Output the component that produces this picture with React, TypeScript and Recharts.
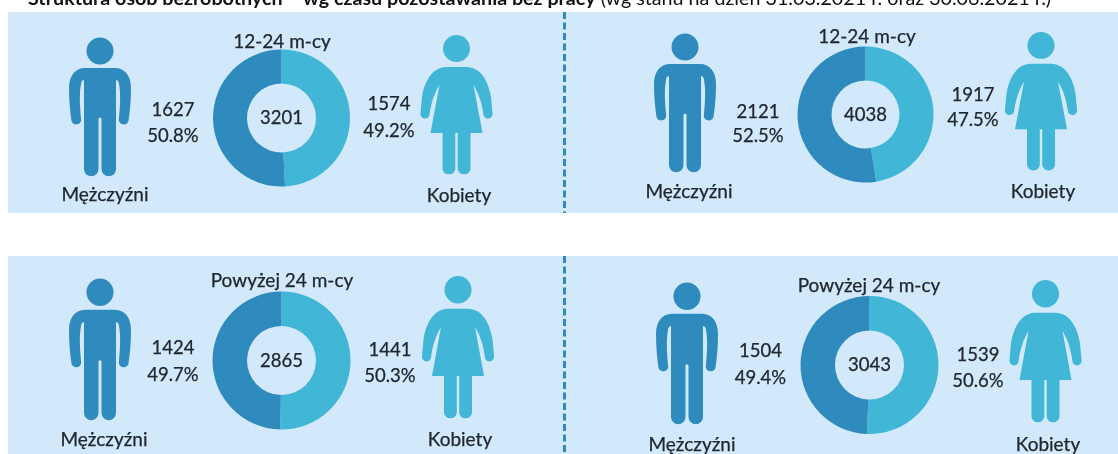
import React from 'react';
import { PieChart, Pie, Cell } from 'recharts';

const panelTitles = ['12-24 m-cy', '12-24 m-cy', 'Powyżej 24 m-cy', 'Powyżej 24 m-cy'];
const menCounts = [1627, 2121, 1424, 1504];
const womenCounts = [1574, 1917, 1441, 1539];
const totals = [3201, 4038, 2865, 3043];
const menShares = ['50.8%', '52.5%', '49.7%', '49.4%'];
const womenShares = ['49.2%', '47.5%', '50.3%', '50.6%'];
const menLabel = 'Mężczyźni';
const womenLabel = 'Kobiety';
const titleBold = 'Struktura osób bezrobotnych – wg czasu pozostawania bez pracy';
const titleRest = '(wg stanu na dzień 31.03.2021 r. oraz 30.06.2021 r.)';

const MEN_COLOR = '#2f8bbd';
const WOMEN_COLOR = '#41b6d6';
const PANEL_BG = '#d2e8fb';
const TEXT_COLOR = '#20272e';

const MAN_BODY =
    'M-15 30H15C25 30 31 38 31 50C31 62 30 73 28.5 83A5 5 0 0 1 18.8 82C20 70 21 56 19 46Q18.5 42 16 42V131A7.25 7.25 0 0 1 1.5 131V81A1.5 1.5 0 0 0 -1.5 81V131A7.25 7.25 0 0 1 -16 131V42Q-18.5 42 -19 46C-21 56 -20 70 -18.8 82A5 5 0 0 1 -28.5 83C-30 73 -31 62 -31 50C-31 38 -25 30 -15 30Z';
const WOMAN_BODY =
    'M-10 32H10C24 32 32 46 34.5 62L36 78A4.5 4.5 0 0 1 27 80C25.5 68 22 58 17 50L26 98H14V134A6.5 6.5 0 0 1 1.2 134V98H-1.2V134A6.5 6.5 0 0 1 -14 134V98H-26L-17 50C-22 58 -25.5 68 -27 80A4.5 4.5 0 0 1 -36 78L-34.5 62C-32 46 -24 32 -10 32Z';

// where each of the four panels puts its pieces
const layout = [
    { cx: 281.5, cy: 118, r: 68.5, inner: 34.5, titleX: 282, titleY: 40, manX: 100, manTop: 38, manH: 138, womanX: 456.5, womanTop: 35, womanH: 141, menX: 173, menY: 109, menPctY: 135, womenX: 389, womenY: 103, womenPctY: 130, mLabelX: 105, mLabelY: 193, kLabelX: 459, kLabelY: 194 },
    { cx: 865.5, cy: 114.5, r: 68, inner: 34, titleX: 867, titleY: 35, manX: 685, manTop: 34, manH: 138, womanX: 1041, womanTop: 32, womanH: 140, menX: 758, menY: 111, menPctY: 135, womenX: 973, womenY: 94, womenPctY: 119, mLabelX: 689, mLabelY: 190, kLabelX: 1043, kLabelY: 190 },
    { cx: 281.5, cy: 360.5, r: 69, inner: 34.5, titleX: 282, titleY: 279, manX: 100, manTop: 279, manH: 141, womanX: 458, womanTop: 276, womanH: 144, menX: 173, menY: 347, menPctY: 374, womenX: 390, womenY: 349, womenPctY: 375, mLabelX: 104, mLabelY: 438, kLabelX: 460, kLabelY: 438 },
    { cx: 869.5, cy: 365, r: 69, inner: 34.5, titleX: 869, titleY: 284, manX: 687, manTop: 283, manH: 141, womanX: 1045.5, womanTop: 280, womanH: 144, menX: 760.5, menY: 350, menPctY: 377, womenX: 978, womenY: 354, womenPctY: 380, mLabelX: 692, mLabelY: 443, kLabelX: 1048, kLabelY: 443 },
];

const textProps = {
    fontFamily: 'Lato',
    fill: TEXT_COLOR,
    stroke: TEXT_COLOR,
    strokeWidth: 0.25,
    textAnchor: 'middle' as const,
    dominantBaseline: 'central' as const,
};
const LABEL_SIZE = 19;
const NUMBER_SIZE = 18.5;

function Person({ x, top, height, body, color, base }: { x: number; top: number; height: number; body: string; color: string; base: number }) {
    const headY = base === 138 ? 13 : 13.5;
    return (
        <g transform={`translate(${x} ${top}) scale(1 ${height / base})`} fill={color}>
            <ellipse cx={0} cy={headY} rx={13.5} ry={13.5} />
            <path d={body} />
        </g>
    );
}

export default function App() {
    return (
        <div style={{ position: 'absolute', left: 0, top: 0, width: 1118, height: 454, background: '#fff', overflow: 'hidden', filter: 'blur(0.5px)' }}>
            <PieChart width={1118} height={454} margin={{ top: 0, right: 0, bottom: 0, left: 0 }}>
                <rect x={8} y={12} width={1110} height={201} fill={PANEL_BG} />
                <rect x={8} y={256} width={1110} height={198} fill={PANEL_BG} />
                <line x1={564.5} y1={12} x2={564.5} y2={213} stroke={MEN_COLOR} strokeWidth={3} strokeDasharray="7 3.5" />
                <line x1={564.5} y1={256} x2={564.5} y2={454} stroke={MEN_COLOR} strokeWidth={3} strokeDasharray="7 3.5" />
                <text x={28} y={5} fontFamily="Lato" fontSize={19.7} fill="#111">
                    <tspan fontWeight={700}>{titleBold}</tspan> <tspan>{titleRest}</tspan>
                </text>
                {layout.map((p, i) => (
                    <Pie
                        key={i}
                        data={[
                            { name: womenLabel, value: womenCounts[i] },
                            { name: menLabel, value: menCounts[i] },
                        ]}
                        dataKey="value"
                        cx={p.cx}
                        cy={p.cy}
                        innerRadius={p.inner}
                        outerRadius={p.r}
                        startAngle={90}
                        endAngle={-270}
                        stroke="none"
                        isAnimationActive={false}
                    >
                        <Cell fill={WOMEN_COLOR} />
                        <Cell fill={MEN_COLOR} />
                    </Pie>
                ))}
                {layout.map((p, i) => (
                    <g key={i}>
                        <Person x={p.manX} top={p.manTop} height={p.manH} body={MAN_BODY} color={MEN_COLOR} base={138} />
                        <Person x={p.womanX} top={p.womanTop} height={p.womanH} body={WOMAN_BODY} color={WOMEN_COLOR} base={141} />
                        <text {...textProps} fontSize={LABEL_SIZE} x={p.titleX} y={p.titleY}>{panelTitles[i]}</text>
                        <text {...textProps} fontSize={NUMBER_SIZE} x={p.cx} y={p.cy - 1}>{totals[i]}</text>
                        <text {...textProps} fontSize={NUMBER_SIZE} x={p.menX} y={p.menY}>{menCounts[i]}</text>
                        <text {...textProps} fontSize={NUMBER_SIZE} x={p.menX} y={p.menPctY}>{menShares[i]}</text>
                        <text {...textProps} fontSize={NUMBER_SIZE} x={p.womenX} y={p.womenY}>{womenCounts[i]}</text>
                        <text {...textProps} fontSize={NUMBER_SIZE} x={p.womenX} y={p.womenPctY}>{womenShares[i]}</text>
                        <text {...textProps} fontSize={LABEL_SIZE} x={p.mLabelX} y={p.mLabelY}>{menLabel}</text>
                        <text {...textProps} fontSize={LABEL_SIZE} x={p.kLabelX} y={p.kLabelY}>{womenLabel}</text>
                    </g>
                ))}
            </PieChart>
        </div>
    );
}
